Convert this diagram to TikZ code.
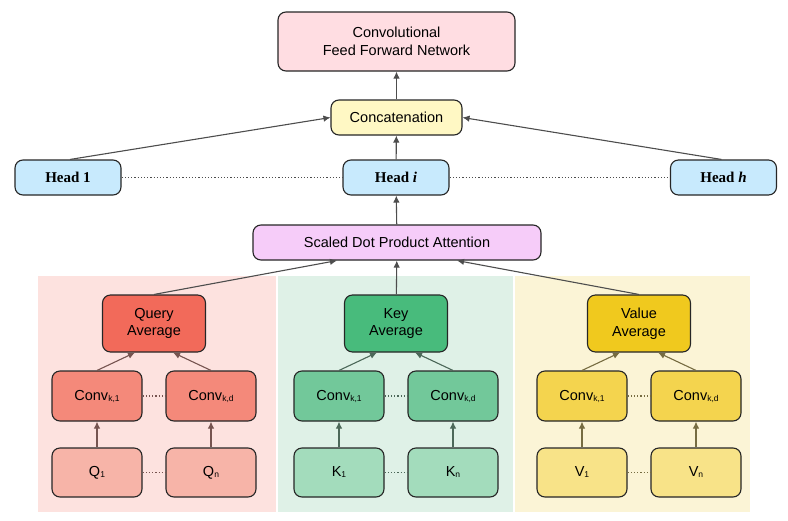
\documentclass[tikz,border=0pt]{standalone}
\usepackage{fontspec}
\setmainfont{Liberation Sans}
\newfontfamily\headfont{Liberation Serif}
\usetikzlibrary{arrows.meta,calc}

\definecolor{cffnpink}{RGB}{255,221,226}
\definecolor{concatyellow}{RGB}{255,248,196}
\definecolor{headblue}{RGB}{200,234,253}
\definecolor{attnpurple}{RGB}{246,204,249}
\definecolor{arrowgray}{RGB}{77,77,77}
% query branch
\definecolor{qpanel}{RGB}{253,226,223}
\definecolor{qavg}{RGB}{242,106,90}
\definecolor{qconv}{RGB}{244,137,122}
\definecolor{qin}{RGB}{247,180,168}
% key branch
\definecolor{kpanel}{RGB}{223,241,231}
\definecolor{kavg}{RGB}{72,187,124}
\definecolor{kconv}{RGB}{114,200,154}
\definecolor{kin}{RGB}{163,220,188}
% value branch
\definecolor{vpanel}{RGB}{251,244,214}
\definecolor{vavg}{RGB}{240,201,30}
\definecolor{vconv}{RGB}{244,212,78}
\definecolor{vin}{RGB}{248,227,136}

\newcommand{\smallsub}[1]{\raisebox{-1pt}{\fontsize{8.5}{9}\selectfont#1}}

\begin{document}
\begin{tikzpicture}
	[
	x=1pt, y=-1pt,
  > = {Latex[length=7pt,width=6.5pt]},
  box/.style = {draw=black!85, line width=1.1pt, rounded corners=8pt, inner sep=0pt, align=center, font=\fontsize{14.5}{17.5}\selectfont},
  headbox/.style = {box, fill=headblue, minimum width=106pt, minimum height=35pt, font=\headfont\bfseries\fontsize{15}{17}\selectfont},
  link/.style = {->, draw=arrowgray, line width=1.1pt},
  dots/.style = {draw=arrowgray, dash pattern=on 1.2pt off 2pt, line width=1.1pt}
  ]
	\useasboundingbox (0,0) rectangle (788,520);

	% panels behind the three branches
	\fill[qpanel] (38,276) rectangle (276,512);
	\fill[kpanel] (278,276) rectangle (513,512);
	\fill[vpanel] (515,276) rectangle (750,512);

	\node[box, fill=cffnpink, minimum width=237pt, minimum height=59pt] (cffn) at (396.5,41.5) {Convolutional\\Feed Forward Network};
	\node[box, fill=concatyellow, minimum width=131pt, minimum height=35pt] (concat) at (396.5,117.5) {Concatenation};

	\node[headbox] (head1) at (68,177.5) {Head 1};
	\node[headbox] (headi) at (396,177.5) {Head \textit{i}};
	\node[headbox] (headh) at (723.5,177.5) {Head \textit{h}};

	\node[box, fill=attnpurple, minimum width=288pt, minimum height=35pt] (attn) at (397,242.5) {Scaled Dot Product Attention};

	\draw[link] (concat) -- (cffn);
	\draw[link] (headi) -- (concat);
	\draw[link] ($(head1.north)+(2,0)$) -- (concat.west);
	\draw[link] ($(headh.north)+(-2,0)$) -- (concat.east);
	\draw[dots] (head1) -- (headi);
	\draw[dots] (headi) -- (headh);
	\draw[link] (attn) -- (headi);

	% one branch each for query, key and value
	\foreach \br/\x/\nm/\ltr in {q/154/Query/Q, k/396/Key/K, v/639/Value/V}
	{
		\node[box, fill=\br avg, minimum width=103pt, minimum height=57pt] (\br avg) at (\x,323.5) {\nm\\Average};
		\node[box, fill=\br conv, minimum width=90pt, minimum height=50pt] (\br conv1) at (\x-57,396) {Conv\smallsub{k,1}};
		\node[box, fill=\br conv, minimum width=90pt, minimum height=50pt] (\br convd) at (\x+57,396) {Conv\smallsub{k,d}};
		\node[box, fill=\br in, minimum width=90pt, minimum height=49pt] (\br in1) at (\x-57,472.5) {\ltr\smallsub{1}};
		\node[box, fill=\br in, minimum width=90pt, minimum height=49pt] (\br inn) at (\x+57,472.5) {\ltr\smallsub{n}};

		\draw[link, draw=\br avg!25!arrowgray] (\br in1) -- (\br conv1);
		\draw[link, draw=\br avg!25!arrowgray] (\br inn) -- (\br convd);
		\draw[link, draw=\br avg!25!arrowgray] (\br conv1.north) -- ($(\br avg.south)+(-19,0)$);
		\draw[link, draw=\br avg!25!arrowgray] (\br convd.north) -- ($(\br avg.south)+(19,0)$);
		\draw[dots, draw=\br avg!25!arrowgray] (\br conv1) -- (\br convd);
		\draw[dots, draw=\br avg!25!arrowgray] (\br in1) -- (\br inn);
	}

	\draw[link] (qavg.north) -- ($(attn.south)+(-60,0)$);
	\draw[link] (kavg) -- (attn);
	\draw[link] (vavg.north) -- ($(attn.south)+(60,0)$);
	\end{tikzpicture}
\end{document}
